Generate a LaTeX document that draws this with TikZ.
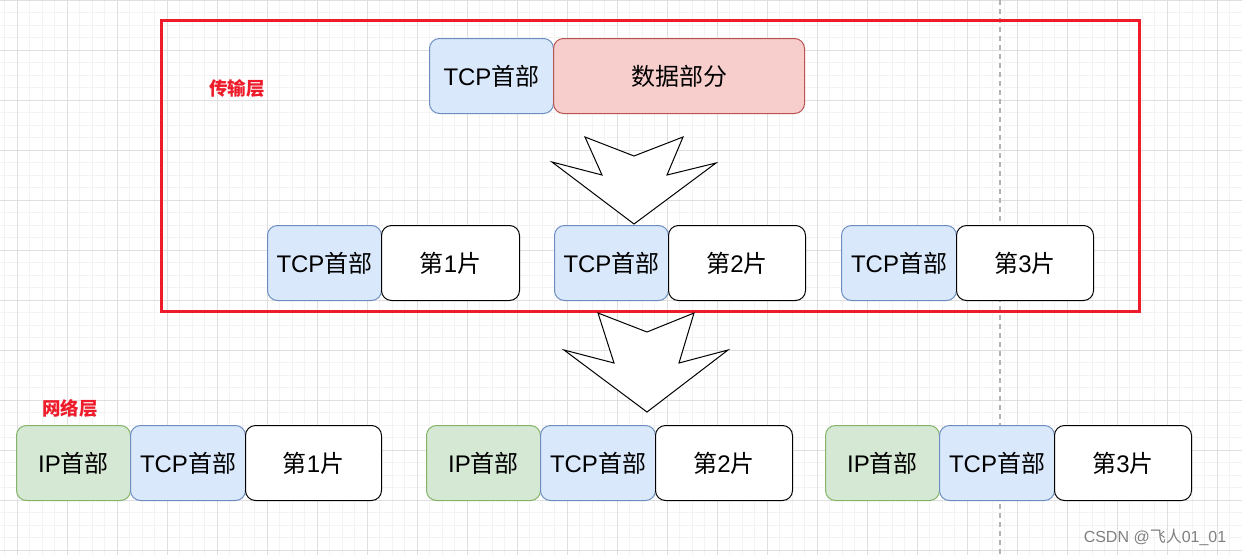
\documentclass[tikz,border=0pt]{standalone}
\usepackage{fontspec}
\setmainfont{Liberation Sans}
\newfontfamily\cjk{Noto Sans CJK SC}
\definecolor{gridmin}{HTML}{F3F3F3}
\definecolor{gridmaj}{HTML}{DFDFDF}
\definecolor{bluef}{HTML}{DAE8FC}
\definecolor{blued}{HTML}{6C8EBF}
\definecolor{redf}{HTML}{F8CECC}
\definecolor{redd}{HTML}{B85450}
\definecolor{greenf}{HTML}{D5E8D4}
\definecolor{greend}{HTML}{82B366}
\definecolor{frame}{HTML}{EE1C2A}
\tikzset{
  cell/.style={rounded corners=10pt, line width=1pt, minimum height=75pt, inner sep=0pt, font=\fontsize{24}{24}\selectfont, anchor=north west},
  tcp/.style={cell, draw=blued, fill=bluef},
  ip/.style={cell, draw=greend, fill=greenf},
  dat/.style={cell, draw=redd, fill=redf},
  frag/.style={cell, draw=black, fill=white},
  layer/.style={text=frame, font=\fontsize{18.5}{18.5}\selectfont\cjk\bfseries},
  bigarrow/.style={draw=black, fill=white, line width=1pt, line join=miter}
}
\begin{document}
\begin{tikzpicture}[x=1pt,y=-1pt]
\useasboundingbox (0,0) rectangle (1242,555);
\fill[white] (0,0) rectangle (1242,555);
% grid
\foreach \i in {0,...,99} {
  \draw[gridmin, line width=0.7pt] ({4.5+12.5*\i},0) -- ({4.5+12.5*\i},555);
}
\foreach \j in {0,...,44} {
  \draw[gridmin, line width=0.7pt] (0,{12.5*\j}) -- (1242,{12.5*\j});
}
\foreach \i in {0,...,24} {
  \draw[gridmaj, line width=0.8pt] ({17+50*\i},0) -- ({17+50*\i},555);
}
\foreach \j in {0,...,11} {
  \draw[gridmaj, line width=0.8pt] (0,{50*\j}) -- (1242,{50*\j});
}
\draw[gray!60, line width=1.2pt, dash pattern=on 5pt off 4pt] (1000,0) -- (1000,555);

% frame
\draw[frame, line width=3pt] (161,20) rectangle (1139,311);

% top row
\node[tcp, minimum width=124pt] (t0) at (429,38) {TCP{\cjk 首部}};
\node[dat, minimum width=251pt] (d0) at (553,38) {\cjk 数据部分};

% arrow 1
\draw[bigarrow] (585,137) -- (634,156) -- (683,137) -- (667,175) -- (716,163) -- (634,224) -- (552,162) -- (602,175) -- cycle;

% row 2
\node[tcp, minimum width=114pt] (t1) at (267,225) {TCP{\cjk 首部}};
\node[frag, minimum width=138pt] (f1) at (381,225) {{\cjk 第}1{\cjk 片}};
\node[tcp, minimum width=114pt] (t2) at (554,225) {TCP{\cjk 首部}};
\node[frag, minimum width=137pt] (f2) at (668,225) {{\cjk 第}2{\cjk 片}};
\node[tcp, minimum width=115pt] (t3) at (841,225) {TCP{\cjk 首部}};
\node[frag, minimum width=137pt] (f3) at (956,225) {{\cjk 第}3{\cjk 片}};

% arrow 2
\draw[bigarrow] (598,313) -- (647,332) -- (694,313) -- (679,363) -- (728,350) -- (647,412) -- (564,350) -- (614,363) -- cycle;

% row 3
\node[ip, minimum width=114pt] (i4) at (16,425) {IP{\cjk 首部}};
\node[tcp, minimum width=115pt] (t4) at (130,425) {TCP{\cjk 首部}};
\node[frag, minimum width=136pt] (f4) at (245,425) {{\cjk 第}1{\cjk 片}};
\node[ip, minimum width=114pt] (i5) at (426,425) {IP{\cjk 首部}};
\node[tcp, minimum width=115pt] (t5) at (540,425) {TCP{\cjk 首部}};
\node[frag, minimum width=137pt] (f5) at (655,425) {{\cjk 第}2{\cjk 片}};
\node[ip, minimum width=114pt] (i6) at (825,425) {IP{\cjk 首部}};
\node[tcp, minimum width=115pt] (t6) at (939,425) {TCP{\cjk 首部}};
\node[frag, minimum width=137pt] (f6) at (1054,425) {{\cjk 第}3{\cjk 片}};

% labels
\node[layer] (l1) at (237,88) {传输层};
\node[layer] (l2) at (70,408) {网络层};
\node[text=gray, font=\fontsize{16}{16}\selectfont] (wm) at (1155,537) {CSDN @{\cjk 飞人}01\_01};
\end{tikzpicture}
\end{document}
